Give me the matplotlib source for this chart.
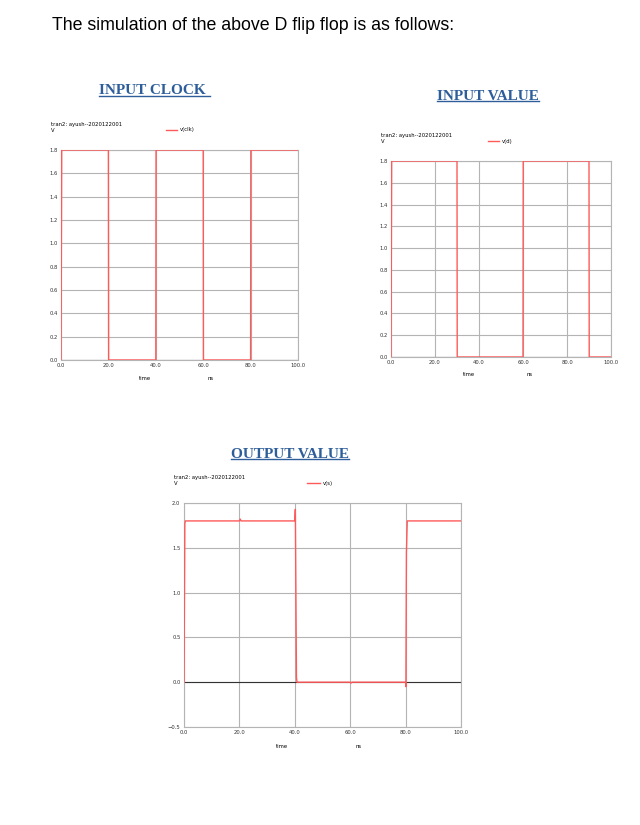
import matplotlib
matplotlib.use("Agg")
import matplotlib.pyplot as plt
from matplotlib.lines import Line2D

# waveforms (time in ns, volts)
clk_t = [0, 0.3, 20, 20.1, 40, 40.1, 60, 60.1, 80, 80.1, 100]
clk_v = [0, 1.8, 1.8, 0, 0, 1.8, 1.8, 0, 0, 1.8, 1.8]

d_t = [0, 0.3, 30, 30.1, 60, 60.1, 90, 90.1, 100]
d_v = [0, 1.8, 1.8, 0, 0, 1.8, 1.8, 0, 0]

s_t = [0, 0.3, 0.5, 20, 20.3, 20.6, 40, 40.2, 40.6, 40.8, 60, 60.3, 60.6, 80, 80.1, 80.3, 80.6, 100]
s_v = [0, 1.77, 1.8, 1.8, 1.82, 1.8, 1.8, 1.93, 0.05, 0, 0, -0.01, 0, 0, -0.05, 1.45, 1.8, 1.8]

x_ticks = [0, 20, 40, 60, 80, 100]
y_ticks_in = [0.0, 0.2, 0.4, 0.6, 0.8, 1.0, 1.2, 1.4, 1.6, 1.8]
y_ticks_out = [-0.5, 0.0, 0.5, 1.0, 1.5, 2.0]

RED = "#ff5a5a"
GRID = "#b4b4b4"
HEAD = "#2e5e9a"
W, H = 640, 825

fig = plt.figure(figsize=(6.4, 8.25), dpi=100)
fig.patch.set_facecolor("white")

def box(l, t, r, b):
    # pixel box -> figure fraction
    return [l / W, 1 - b / H, (r - l) / W, (b - t) / H]

def spice_ax(rect, t, v, label, yticks, ylim):
    ax = fig.add_axes(rect)
    ax.set_xlim(0, 100); ax.set_ylim(*ylim)
    ax.set_xticks(x_ticks); ax.set_yticks(yticks)
    ax.set_xticklabels([f"{x:.1f}" for x in x_ticks])
    ax.set_yticklabels([f"{y:.1f}".replace("-", "\u2212") for y in yticks])
    ax.tick_params(length=0, labelsize=3.8, pad=2.5, colors="#333333")
    ax.grid(True, color=GRID, linewidth=0.8)
    for s in ax.spines.values():
        s.set_color(GRID); s.set_linewidth(0.8)
    ax.axhline(0, color="#333333", linewidth=0.8, zorder=2)
    ax.plot(t, v, color=RED, linewidth=1.0, zorder=3)
    # ngspice style legend: short red dash + name, above the plot
    ax.add_artist(Line2D([0.443, 0.49], [1.0, 1.0], color=RED, linewidth=1.0,
                         transform=ax.transAxes + matplotlib.transforms.ScaledTranslation(0, 20 / 100, fig.dpi_scale_trans),
                         clip_on=False))
    ax.annotate(label, xy=(0.502, 1), xycoords="axes fraction", xytext=(0, 14.4),
                textcoords="offset points", fontsize=3.8, va="center", ha="left")
    ax.annotate("tran2: ayush--2020122001\nV", xy=(0, 1), xycoords="axes fraction",
                xytext=(-7, 12), textcoords="offset points", fontsize=3.8,
                va="bottom", ha="left", linespacing=1.3)
    ax.text(0.355, -0.075, "time", transform=ax.transAxes, fontsize=3.8, ha="center", va="top")
    ax.text(0.63, -0.075, "ns", transform=ax.transAxes, fontsize=3.8, ha="center", va="top")
    return ax

spice_ax(box(61, 150, 298, 360), clk_t, clk_v, "v(clk)", y_ticks_in, (0, 1.8))
spice_ax(box(391, 161, 611, 357), d_t, d_v, "v(d)", y_ticks_in, (0, 1.8))
spice_ax(box(184, 503, 461, 727), s_t, s_v, "v(s)", y_ticks_out, (-0.5, 2.0))

fig.text(52 / W, 1 - 26 / H, "The simulation of the above D flip flop is as follows:",
         fontsize=12.8, family="Liberation Sans", va="center", ha="left")

heads = []
for txt, x, y in [("INPUT CLOCK ", 99, 91), ("INPUT VALUE", 437, 96), ("OUTPUT VALUE", 231, 454)]:
    heads.append(fig.text(x / W, 1 - y / H, txt, fontsize=11, family="Liberation Serif",
                          weight="bold", color=HEAD, va="center", ha="left"))

fig.canvas.draw()
r = fig.canvas.get_renderer()
for h in heads:
    bb = h.get_window_extent(r)
    yy = (bb.y0 + 1.5) / H
    fig.add_artist(Line2D([bb.x0 / W, bb.x1 / W], [yy, yy], color=HEAD, linewidth=1.0))

plt.savefig("out.png", dpi=100)
plt.close()
